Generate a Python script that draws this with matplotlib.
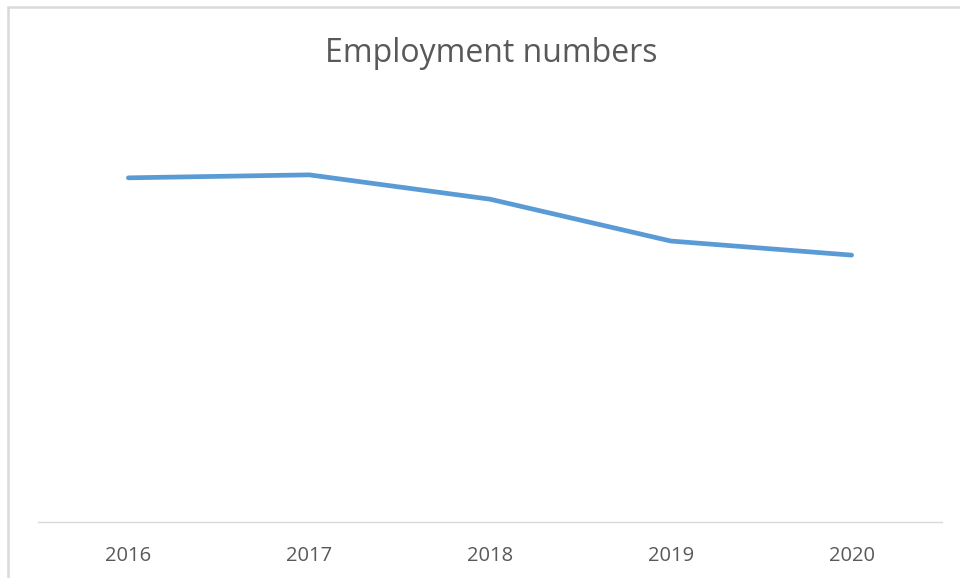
import matplotlib.pyplot as plt
from matplotlib.patches import Rectangle

years = ['2016', '2017', '2018', '2019', '2020']
employment = [80.6, 81.3, 75.6, 65.8, 62.5]

plt.rcParams['font.family'] = ['Open Sans', 'DejaVu Sans']

fig = plt.figure(figsize=(9.6, 5.78), dpi=100)
W, H = 960, 578

# chart frame (left and top edges visible)
fig.patches.append(Rectangle((8 / W, -0.1), 1.2, 1 - 7 / H + 0.1, transform=fig.transFigure,
                             fill=False, edgecolor='#d9d9d9', linewidth=1.8))

ax = fig.add_axes([38 / W, 1 - 522 / H, (942 - 38) / W, (522 - 95) / H])
x = range(len(years))
ax.plot(x, employment, color='#5b9bd5', linewidth=3.4, solid_capstyle='round',
        solid_joinstyle='round')

ax.set_xlim(-0.5, len(years) - 0.5)
ax.set_ylim(0, 100)
ax.set_xticks(list(x))
ax.set_xticklabels(years, color='#595959', fontsize=14.5)
ax.tick_params(axis='x', length=0, pad=17)
ax.set_yticks([])
for side in ['top', 'right', 'left']:
    ax.spines[side].set_visible(False)
ax.spines['bottom'].set_color('#d9d9d9')
ax.spines['bottom'].set_linewidth(1)

fig.text(491 / W, 1 - 54 / H, 'Employment numbers', ha='center', va='center',
         color='#595959', fontsize=23)

fig.savefig('out.png', dpi=100)
